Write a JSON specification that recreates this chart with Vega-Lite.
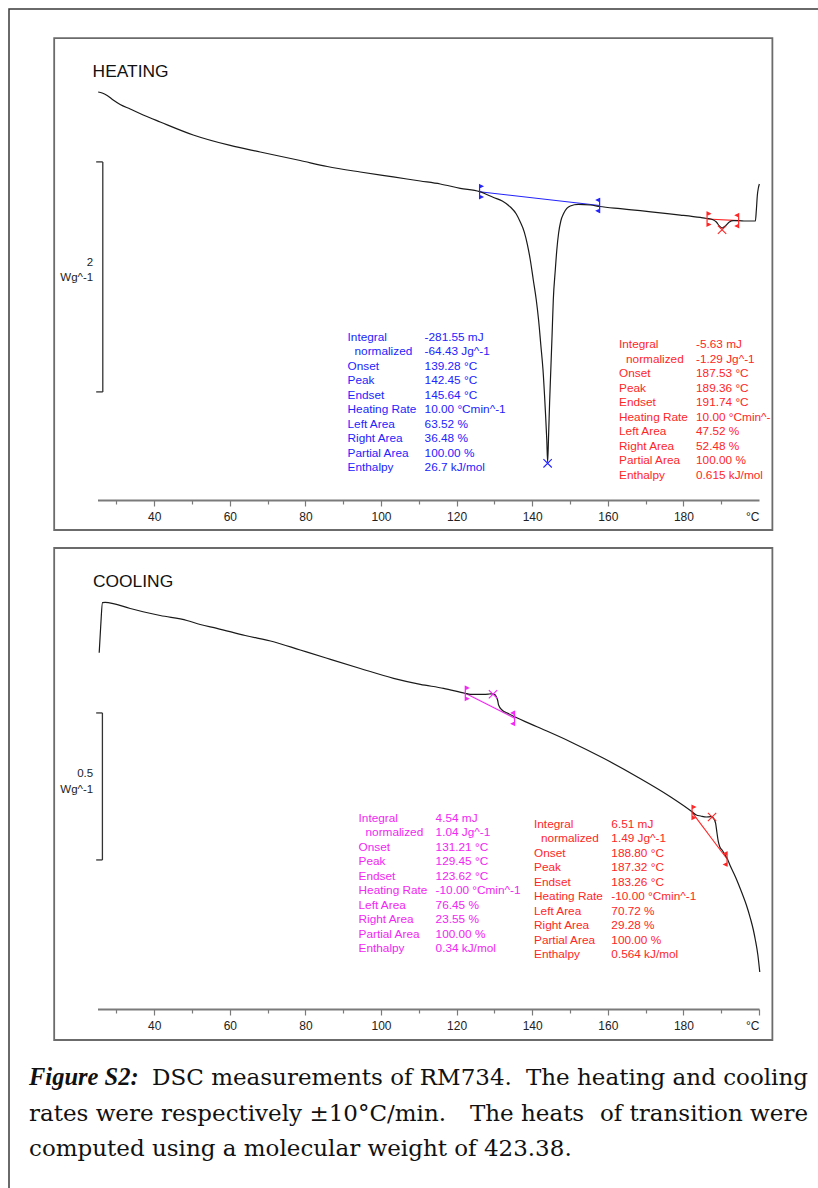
{
  "$schema": "https://vega.github.io/schema/vega-lite/v6.json",
  "width": 812,
  "height": 1182,
  "autosize": {"type": "none"},
  "padding": {"left": 9, "top": 9, "right": 0, "bottom": 0},
  "background": "white",
  "config": {"view": {"stroke": "#3a3a3a", "strokeWidth": 1.5}, "text": {"font": "Liberation Sans"}},
  "datasets": {
    "heatFrame": [{"T": 13.54, "T2": 203.54, "HF": -0.261, "HF2": 4.017}],
    "coolFrame": [{"T": 13.54, "T2": 203.54, "HF": -0.1054, "HF2": 1.568}],
    "heatBar": [
      {"T": 26.4, "T2": 26.4, "HF": 0.94, "HF2": 2.94},
      {"T": 24.65, "T2": 26.4, "HF": 0.94, "HF2": 0.94},
      {"T": 24.65, "T2": 26.4, "HF": 2.94, "HF2": 2.94}
    ],
    "coolBar": [
      {"T": 26.3, "T2": 26.3, "HF": 0.507, "HF2": 1.007},
      {"T": 24.65, "T2": 26.3, "HF": 0.507, "HF2": 0.507},
      {"T": 24.65, "T2": 26.3, "HF": 1.007, "HF2": 1.007}
    ],
    "heatUnit": [{"T": 23.86, "HF": 2.035, "txt": "2\nWg^-1"}],
    "coolUnit": [{"T": 23.86, "HF": 0.7908, "txt": "0.5\nWg^-1"}],
    "heatTitle": [{"T": 23.7, "HF": 3.681, "txt": "HEATING"}],
    "coolTitle": [{"T": 23.8, "HF": 1.4364, "txt": "COOLING"}],
    "heatCurve": [
      {"T": 25.18, "HF": 3.548}, {"T": 26.24, "HF": 3.539}, {"T": 27.56, "HF": 3.517}, {"T": 29.15, "HF": 3.478},
      {"T": 31.0, "HF": 3.439}, {"T": 33.65, "HF": 3.4}, {"T": 37.09, "HF": 3.348}, {"T": 41.59, "HF": 3.287},
      {"T": 50.32, "HF": 3.174}, {"T": 60.11, "HF": 3.083}, {"T": 68.05, "HF": 3.026}, {"T": 78.63, "HF": 2.952},
      {"T": 85.78, "HF": 2.9}, {"T": 94.51, "HF": 2.852}, {"T": 103.24, "HF": 2.809}, {"T": 110.39, "HF": 2.774},
      {"T": 115.68, "HF": 2.748}, {"T": 120.97, "HF": 2.71}, {"T": 126.08, "HF": 2.681}, {"T": 129.79, "HF": 2.63},
      {"T": 132.09, "HF": 2.6}, {"T": 134.21, "HF": 2.548}, {"T": 135.79, "HF": 2.487}, {"T": 136.85, "HF": 2.417},
      {"T": 137.91, "HF": 2.33}, {"T": 138.7, "HF": 2.226}, {"T": 139.5, "HF": 2.087}, {"T": 140.29, "HF": 1.913},
      {"T": 141.08, "HF": 1.739}, {"T": 141.69, "HF": 1.565}, {"T": 142.28, "HF": 1.348}, {"T": 142.86, "HF": 1.13},
      {"T": 143.47, "HF": 0.783}, {"T": 143.86, "HF": 0.522}, {"T": 144.08, "HF": 0.33}, {"T": 144.34, "HF": 0.565},
      {"T": 144.6, "HF": 0.843}, {"T": 144.92, "HF": 1.13}, {"T": 145.24, "HF": 1.417}, {"T": 145.58, "HF": 1.739},
      {"T": 146.11, "HF": 2.0}, {"T": 146.51, "HF": 2.174}, {"T": 146.99, "HF": 2.322}, {"T": 147.57, "HF": 2.426},
      {"T": 148.31, "HF": 2.491}, {"T": 149.16, "HF": 2.535}, {"T": 150.08, "HF": 2.557}, {"T": 152.2, "HF": 2.57},
      {"T": 155.37, "HF": 2.565}, {"T": 157.84, "HF": 2.552}, {"T": 163.31, "HF": 2.533}, {"T": 168.61, "HF": 2.516},
      {"T": 173.9, "HF": 2.496}, {"T": 179.19, "HF": 2.478}, {"T": 184.48, "HF": 2.457}, {"T": 186.26, "HF": 2.448},
      {"T": 187.66, "HF": 2.439}, {"T": 188.72, "HF": 2.417}, {"T": 189.51, "HF": 2.383}, {"T": 190.22, "HF": 2.365},
      {"T": 191.1, "HF": 2.383}, {"T": 192.16, "HF": 2.417}, {"T": 193.21, "HF": 2.429}, {"T": 194.62, "HF": 2.429},
      {"T": 196.39, "HF": 2.426}, {"T": 199.04, "HF": 2.426}, {"T": 199.3, "HF": 2.522}, {"T": 199.57, "HF": 2.652},
      {"T": 199.83, "HF": 2.713}, {"T": 200.1, "HF": 2.748}
    ],
    "coolCurve": [
      {"T": 25.45, "HF": 1.2119}, {"T": 25.84, "HF": 1.3}, {"T": 26.32, "HF": 1.382}, {"T": 27.03, "HF": 1.3833},
      {"T": 33.65, "HF": 1.3622}, {"T": 41.59, "HF": 1.3384}, {"T": 48.65, "HF": 1.3214}, {"T": 52.17, "HF": 1.3078},
      {"T": 56.59, "HF": 1.2949}, {"T": 64.08, "HF": 1.2704}, {"T": 71.57, "HF": 1.2493}, {"T": 78.63, "HF": 1.2211},
      {"T": 85.7, "HF": 1.1929}, {"T": 94.51, "HF": 1.1582}, {"T": 103.32, "HF": 1.1248}, {"T": 110.39, "HF": 1.1044},
      {"T": 116.55, "HF": 1.0908}, {"T": 122.3, "HF": 1.0738}, {"T": 123.62, "HF": 1.0704}, {"T": 127.14, "HF": 1.0704},
      {"T": 128.65, "HF": 1.0714}, {"T": 129.36, "HF": 1.0721}, {"T": 130.1, "HF": 1.0697}, {"T": 130.5, "HF": 1.0622},
      {"T": 130.9, "HF": 1.0476}, {"T": 131.11, "HF": 1.034}, {"T": 132.01, "HF": 1.017}, {"T": 133.41, "HF": 1.0068},
      {"T": 135.34, "HF": 0.9942}, {"T": 141.27, "HF": 0.9602}, {"T": 150.08, "HF": 0.9092}, {"T": 158.89, "HF": 0.8527},
      {"T": 167.73, "HF": 0.7901}, {"T": 176.54, "HF": 0.7221}, {"T": 182.29, "HF": 0.6711}, {"T": 183.42, "HF": 0.6599},
      {"T": 184.56, "HF": 0.6565}, {"T": 186.07, "HF": 0.6531}, {"T": 187.2, "HF": 0.6541}, {"T": 187.92, "HF": 0.6497},
      {"T": 188.53, "HF": 0.6316}, {"T": 188.85, "HF": 0.602}, {"T": 189.24, "HF": 0.569}, {"T": 189.64, "HF": 0.551},
      {"T": 190.23, "HF": 0.5408}, {"T": 191.55, "HF": 0.5126}, {"T": 192.42, "HF": 0.4864}, {"T": 193.75, "HF": 0.45},
      {"T": 195.52, "HF": 0.3935}, {"T": 196.66, "HF": 0.3537}, {"T": 197.72, "HF": 0.3085}, {"T": 198.51, "HF": 0.2687},
      {"T": 199.04, "HF": 0.2347}, {"T": 199.7, "HF": 0.1837}, {"T": 200.2, "HF": 0.1259}
    ],
    "heatEvents": [
      {"ev": "H1", "kind": "lo", "T": 126.08, "HF": 2.681},
      {"ev": "H1", "kind": "hi", "T": 157.84, "HF": 2.561},
      {"ev": "H1", "kind": "peak", "T": 144.08, "HF": 0.319},
      {"ev": "H2", "kind": "lo", "T": 186.26, "HF": 2.443},
      {"ev": "H2", "kind": "hi", "T": 194.62, "HF": 2.429},
      {"ev": "H2", "kind": "peak", "T": 190.22, "HF": 2.35}
    ],
    "coolEvents": [
      {"ev": "C1", "kind": "lo", "T": 122.3, "HF": 1.0738},
      {"ev": "C1", "kind": "hi", "T": 135.34, "HF": 0.9888},
      {"ev": "C1", "kind": "peak", "T": 129.63, "HF": 1.0704},
      {"ev": "C2", "kind": "lo", "T": 182.29, "HF": 0.669},
      {"ev": "C2", "kind": "hi", "T": 191.55, "HF": 0.5102},
      {"ev": "C2", "kind": "peak", "T": 187.58, "HF": 0.6531}
    ],
    "heatNotes": [
      {"ev": "H1", "col": "label", "T": 91.15, "HF": 1.3852, "txt": "Onset\nPeak\nEndset\nHeating Rate\nLeft Area\nRight Area\nPartial Area\nEnthalpy"},
      {"ev": "H1", "col": "value", "T": 111.53, "HF": 1.3852, "txt": "-281.55 mJ\n-64.43 Jg^-1\n139.28 °C\n142.45 °C\n145.64 °C\n10.00 °Cmin^-1\n63.52 %\n36.48 %\n100.00 %\n26.7 kJ/mol"},
      {"ev": "H2", "col": "label", "T": 162.97, "HF": 1.3217, "txt": "Onset\nPeak\nEndset\nHeating Rate\nLeft Area\nRight Area\nPartial Area\nEnthalpy"},
      {"ev": "H2", "col": "value", "T": 183.34, "HF": 1.3217, "txt": "-5.63 mJ\n-1.29 Jg^-1\n187.53 °C\n189.36 °C\n191.74 °C\n10.00 °Cmin^-\n47.52 %\n52.48 %\n100.00 %\n0.615 kJ/mol"}
    ],
    "coolNotes": [
      {"ev": "C1", "col": "label", "T": 94.06, "HF": 0.6371, "txt": "Onset\nPeak\nEndset\nHeating Rate\nLeft Area\nRight Area\nPartial Area\nEnthalpy"},
      {"ev": "C1", "col": "value", "T": 114.44, "HF": 0.6371, "txt": "4.54 mJ\n1.04 Jg^-1\n131.21 °C\n129.45 °C\n123.62 °C\n-10.00 °Cmin^-1\n76.45 %\n23.55 %\n100.00 %\n0.34 kJ/mol"},
      {"ev": "C2", "col": "label", "T": 140.48, "HF": 0.6167, "txt": "Onset\nPeak\nEndset\nHeating Rate\nLeft Area\nRight Area\nPartial Area\nEnthalpy"},
      {"ev": "C2", "col": "value", "T": 160.93, "HF": 0.6167, "txt": "6.51 mJ\n1.49 Jg^-1\n188.80 °C\n187.32 °C\n183.26 °C\n-10.00 °Cmin^-1\n70.72 %\n29.28 %\n100.00 %\n0.564 kJ/mol"}
    ],
    "captionFig": [{"pos": 0, "line": 1, "txt": "Figure S2:"}],
    "captionLeft": [
      {"pos": 0.158, "line": 1, "txt": "DSC measurements of RM734."},
      {"pos": 0, "line": 2, "txt": "rates were respectively ±10°C/min."},
      {"pos": 0.566, "line": 2, "txt": "The heats"},
      {"pos": 0, "line": 3, "txt": "computed using a molecular weight of 423.38."}
    ],
    "captionRight": [
      {"pos": 1, "line": 1, "txt": "The heating and cooling"},
      {"pos": 1, "line": 2, "txt": "of transition were"}
    ]
  },
  "resolve": {"scale": {"x": "independent", "y": "independent"}, "axis": {"x": "independent", "y": "independent"}},
  "layer": [
    {
      "encoding": {
        "x": {"field": "T", "type": "quantitative", "scale": {"domain": [25, 200], "range": [88.5, 750], "nice": false, "zero": false},
          "axis": {"orient": "bottom", "offset": -691, "values": [30, 40, 50, 60, 70, 80, 90, 100, 110, 120, 130, 140, 150, 160, 170, 180, 190, 200],
            "grid": false, "title": null, "domainColor": "#7a7a7a", "domainWidth": 2, "tickColor": "#7a7a7a", "tickWidth": 1.2,
            "tickSize": {"condition": {"test": "datum.value % 20 === 0", "value": 6}, "value": 4},
            "tickOpacity": {"condition": {"test": "datum.value === 200", "value": 0}, "value": 1},
            "labelExpr": "datum.value === 200 ? '°C' : (datum.value % 20 === 0 ? datum.label : '')",
            "labelFont": "Liberation Sans", "labelFontSize": 12, "labelColor": "#222", "labelPadding": 5, "labelOverlap": false, "labelFlush": true}},
        "y": {"field": "HF", "type": "quantitative", "scale": {"domain": [0, 4], "range": [491, 31], "nice": false, "zero": false}, "axis": null}
      },
      "layer": [
        {"data": {"name": "heatFrame"}, "mark": {"type": "rect", "fill": "transparent", "stroke": "#6b6b6b", "strokeWidth": 1.8},
          "encoding": {"x2": {"field": "T2"}, "y2": {"field": "HF2"}}},
        {"data": {"name": "heatBar"}, "mark": {"type": "rule", "color": "#333", "strokeWidth": 1.3},
          "encoding": {"x2": {"field": "T2"}, "y2": {"field": "HF2"}}},
        {"data": {"name": "heatUnit"}, "mark": {"type": "text", "align": "right", "baseline": "alphabetic", "lineBreak": "\n", "lineHeight": 15.5, "fontSize": 11.5, "color": "#222"},
          "encoding": {"text": {"field": "txt"}}},
        {"data": {"name": "heatTitle"}, "mark": {"type": "text", "align": "left", "baseline": "alphabetic", "fontSize": 17.4, "color": "#111"},
          "encoding": {"text": {"field": "txt"}}},
        {"data": {"name": "heatEvents"}, "transform": [{"filter": "datum.kind !== 'peak'"}], "mark": {"type": "line", "strokeWidth": 1.1},
          "encoding": {"color": {"field": "ev", "type": "nominal", "scale": {"domain": ["H1", "H2", "C1", "C2"], "range": ["#2323ff", "#ff2626", "#f226f2", "#ff2626"]}, "legend": null}}},
        {"data": {"name": "heatCurve"}, "mark": {"type": "line", "color": "#1a1a1a", "strokeWidth": 1.2, "interpolate": "monotone"}},
        {"data": {"name": "heatEvents"}, "transform": [{"filter": "datum.kind === 'lo'"}],
          "mark": {"type": "point", "shape": "M0,-1L0,1M0,-1L0.45,-0.78L0,-0.56ZM0,1L0.45,0.78L0,0.56Z", "size": 190, "strokeWidth": 1.2, "opacity": 1},
          "encoding": {"fill": {"field": "ev", "type": "nominal", "scale": {"domain": ["H1", "H2", "C1", "C2"], "range": ["#2323ff", "#ff2626", "#f226f2", "#ff2626"]}, "legend": null},
            "stroke": {"field": "ev", "type": "nominal", "scale": {"domain": ["H1", "H2", "C1", "C2"], "range": ["#2323ff", "#ff2626", "#f226f2", "#ff2626"]}, "legend": null}}},
        {"data": {"name": "heatEvents"}, "transform": [{"filter": "datum.kind === 'hi'"}],
          "mark": {"type": "point", "shape": "M0,-1L0,1M0,-1L-0.45,-0.78L0,-0.56ZM0,1L-0.45,0.78L0,0.56Z", "size": 190, "strokeWidth": 1.2, "opacity": 1},
          "encoding": {"fill": {"field": "ev", "type": "nominal", "scale": {"domain": ["H1", "H2", "C1", "C2"], "range": ["#2323ff", "#ff2626", "#f226f2", "#ff2626"]}, "legend": null},
            "stroke": {"field": "ev", "type": "nominal", "scale": {"domain": ["H1", "H2", "C1", "C2"], "range": ["#2323ff", "#ff2626", "#f226f2", "#ff2626"]}, "legend": null}}},
        {"data": {"name": "heatEvents"}, "transform": [{"filter": "datum.kind === 'peak'"}],
          "mark": {"type": "point", "shape": "M-1,-1L1,1M-1,1L1,-1", "size": 70, "strokeWidth": 1.1, "filled": false, "opacity": 1},
          "encoding": {"color": {"field": "ev", "type": "nominal", "scale": {"domain": ["H1", "H2", "C1", "C2"], "range": ["#2323ff", "#ff2626", "#f226f2", "#ff2626"]}, "legend": null}}},
        {"data": {"name": "heatNotes"}, "transform": [{"filter": "datum.col === 'value'"}],
          "mark": {"type": "text", "align": "left", "baseline": "alphabetic", "lineBreak": "\n", "lineHeight": 14.5, "fontSize": 11.8},
          "encoding": {"text": {"field": "txt"}, "color": {"field": "ev", "type": "nominal", "scale": {"domain": ["H1", "H2", "C1", "C2"], "range": ["#2323ff", "#ff2626", "#f226f2", "#ff2626"]}, "legend": null}}},
        {"data": {"name": "heatNotes"}, "transform": [{"filter": "datum.col === 'label'"}],
          "mark": {"type": "text", "align": "left", "baseline": "alphabetic", "lineBreak": "\n", "lineHeight": 14.5, "dy": 29, "fontSize": 11.8},
          "encoding": {"text": {"field": "txt"}, "color": {"field": "ev", "type": "nominal", "scale": {"domain": ["H1", "H2", "C1", "C2"], "range": ["#2323ff", "#ff2626", "#f226f2", "#ff2626"]}, "legend": null}}},
        {"data": {"name": "heatNotes"}, "transform": [{"filter": "datum.col === 'label'"}],
          "mark": {"type": "text", "align": "left", "baseline": "alphabetic", "fontSize": 11.8},
          "encoding": {"text": {"value": "Integral"}, "color": {"field": "ev", "type": "nominal", "scale": {"domain": ["H1", "H2", "C1", "C2"], "range": ["#2323ff", "#ff2626", "#f226f2", "#ff2626"]}, "legend": null}}},
        {"data": {"name": "heatNotes"}, "transform": [{"filter": "datum.col === 'label'"}],
          "mark": {"type": "text", "align": "left", "baseline": "alphabetic", "dx": 7, "dy": 14.5, "fontSize": 11.8},
          "encoding": {"text": {"value": "normalized"}, "color": {"field": "ev", "type": "nominal", "scale": {"domain": ["H1", "H2", "C1", "C2"], "range": ["#2323ff", "#ff2626", "#f226f2", "#ff2626"]}, "legend": null}}}
      ]
    },
    {
      "encoding": {
        "x": {"field": "T", "type": "quantitative", "scale": {"domain": [25, 200], "range": [88.5, 750], "nice": false, "zero": false},
          "axis": {"orient": "bottom", "offset": -182, "values": [30, 40, 50, 60, 70, 80, 90, 100, 110, 120, 130, 140, 150, 160, 170, 180, 190, 200],
            "grid": false, "title": null, "domainColor": "#7a7a7a", "domainWidth": 2, "tickColor": "#7a7a7a", "tickWidth": 1.2,
            "tickSize": {"condition": {"test": "datum.value % 20 === 0", "value": 6}, "value": 4},
            "labelExpr": "datum.value === 200 ? '°C' : (datum.value % 20 === 0 ? datum.label : '')",
            "labelFont": "Liberation Sans", "labelFontSize": 12, "labelColor": "#222", "labelPadding": 5, "labelOverlap": false, "labelFlush": true}},
        "y": {"field": "HF", "type": "quantitative", "scale": {"domain": [0, 1.5], "range": [1000, 559], "nice": false, "zero": false}, "axis": null}
      },
      "layer": [
        {"data": {"name": "coolFrame"}, "mark": {"type": "rect", "fill": "transparent", "stroke": "#6b6b6b", "strokeWidth": 1.8},
          "encoding": {"x2": {"field": "T2"}, "y2": {"field": "HF2"}}},
        {"data": {"name": "coolBar"}, "mark": {"type": "rule", "color": "#333", "strokeWidth": 1.3},
          "encoding": {"x2": {"field": "T2"}, "y2": {"field": "HF2"}}},
        {"data": {"name": "coolUnit"}, "mark": {"type": "text", "align": "right", "baseline": "alphabetic", "lineBreak": "\n", "lineHeight": 16.5, "fontSize": 11.5, "color": "#222"},
          "encoding": {"text": {"field": "txt"}}},
        {"data": {"name": "coolTitle"}, "mark": {"type": "text", "align": "left", "baseline": "alphabetic", "fontSize": 17.4, "color": "#111"},
          "encoding": {"text": {"field": "txt"}}},
        {"data": {"name": "coolEvents"}, "transform": [{"filter": "datum.kind !== 'peak'"}], "mark": {"type": "line", "strokeWidth": 1.1},
          "encoding": {"color": {"field": "ev", "type": "nominal", "scale": {"domain": ["H1", "H2", "C1", "C2"], "range": ["#2323ff", "#ff2626", "#f226f2", "#ff2626"]}, "legend": null}}},
        {"data": {"name": "coolCurve"}, "mark": {"type": "line", "color": "#1a1a1a", "strokeWidth": 1.2, "interpolate": "monotone"}},
        {"data": {"name": "coolEvents"}, "transform": [{"filter": "datum.kind === 'lo'"}],
          "mark": {"type": "point", "shape": "M0,-1L0,1M0,-1L0.45,-0.78L0,-0.56ZM0,1L0.45,0.78L0,0.56Z", "size": 190, "strokeWidth": 1.2, "opacity": 1},
          "encoding": {"fill": {"field": "ev", "type": "nominal", "scale": {"domain": ["H1", "H2", "C1", "C2"], "range": ["#2323ff", "#ff2626", "#f226f2", "#ff2626"]}, "legend": null},
            "stroke": {"field": "ev", "type": "nominal", "scale": {"domain": ["H1", "H2", "C1", "C2"], "range": ["#2323ff", "#ff2626", "#f226f2", "#ff2626"]}, "legend": null}}},
        {"data": {"name": "coolEvents"}, "transform": [{"filter": "datum.kind === 'hi'"}],
          "mark": {"type": "point", "shape": "M0,-1L0,1M0,-1L-0.45,-0.78L0,-0.56ZM0,1L-0.45,0.78L0,0.56Z", "size": 190, "strokeWidth": 1.2, "opacity": 1},
          "encoding": {"fill": {"field": "ev", "type": "nominal", "scale": {"domain": ["H1", "H2", "C1", "C2"], "range": ["#2323ff", "#ff2626", "#f226f2", "#ff2626"]}, "legend": null},
            "stroke": {"field": "ev", "type": "nominal", "scale": {"domain": ["H1", "H2", "C1", "C2"], "range": ["#2323ff", "#ff2626", "#f226f2", "#ff2626"]}, "legend": null}}},
        {"data": {"name": "coolEvents"}, "transform": [{"filter": "datum.kind === 'peak'"}],
          "mark": {"type": "point", "shape": "M-1,-1L1,1M-1,1L1,-1", "size": 70, "strokeWidth": 1.1, "filled": false, "opacity": 1},
          "encoding": {"color": {"field": "ev", "type": "nominal", "scale": {"domain": ["H1", "H2", "C1", "C2"], "range": ["#2323ff", "#ff2626", "#f226f2", "#ff2626"]}, "legend": null}}},
        {"data": {"name": "coolNotes"}, "transform": [{"filter": "datum.col === 'value'"}],
          "mark": {"type": "text", "align": "left", "baseline": "alphabetic", "lineBreak": "\n", "lineHeight": 14.5, "fontSize": 11.8},
          "encoding": {"text": {"field": "txt"}, "color": {"field": "ev", "type": "nominal", "scale": {"domain": ["H1", "H2", "C1", "C2"], "range": ["#2323ff", "#ff2626", "#f226f2", "#ff2626"]}, "legend": null}}},
        {"data": {"name": "coolNotes"}, "transform": [{"filter": "datum.col === 'label'"}],
          "mark": {"type": "text", "align": "left", "baseline": "alphabetic", "lineBreak": "\n", "lineHeight": 14.5, "dy": 29, "fontSize": 11.8},
          "encoding": {"text": {"field": "txt"}, "color": {"field": "ev", "type": "nominal", "scale": {"domain": ["H1", "H2", "C1", "C2"], "range": ["#2323ff", "#ff2626", "#f226f2", "#ff2626"]}, "legend": null}}},
        {"data": {"name": "coolNotes"}, "transform": [{"filter": "datum.col === 'label'"}],
          "mark": {"type": "text", "align": "left", "baseline": "alphabetic", "fontSize": 11.8},
          "encoding": {"text": {"value": "Integral"}, "color": {"field": "ev", "type": "nominal", "scale": {"domain": ["H1", "H2", "C1", "C2"], "range": ["#2323ff", "#ff2626", "#f226f2", "#ff2626"]}, "legend": null}}},
        {"data": {"name": "coolNotes"}, "transform": [{"filter": "datum.col === 'label'"}],
          "mark": {"type": "text", "align": "left", "baseline": "alphabetic", "dx": 7, "dy": 14.5, "fontSize": 11.8},
          "encoding": {"text": {"value": "normalized"}, "color": {"field": "ev", "type": "nominal", "scale": {"domain": ["H1", "H2", "C1", "C2"], "range": ["#2323ff", "#ff2626", "#f226f2", "#ff2626"]}, "legend": null}}}
      ]
    },
    {
      "encoding": {
        "x": {"field": "pos", "type": "quantitative", "scale": {"domain": [0, 1], "range": [20, 799], "nice": false, "zero": false}, "axis": null},
        "y": {"field": "line", "type": "quantitative", "scale": {"domain": [1, 3], "range": [1076, 1147], "nice": false, "zero": false}, "axis": null},
        "text": {"field": "txt"}
      },
      "layer": [
        {"data": {"name": "captionFig"}, "mark": {"type": "text", "align": "left", "baseline": "alphabetic", "font": "Liberation Serif", "fontStyle": "italic", "fontWeight": "bold", "fontSize": 24.5, "color": "#111"}},
        {"data": {"name": "captionLeft"}, "mark": {"type": "text", "align": "left", "baseline": "alphabetic", "font": "DejaVu Serif", "fontSize": 23, "color": "#111"}},
        {"data": {"name": "captionRight"}, "mark": {"type": "text", "align": "right", "baseline": "alphabetic", "font": "DejaVu Serif", "fontSize": 23, "color": "#111"}}
      ]
    }
  ]
}
